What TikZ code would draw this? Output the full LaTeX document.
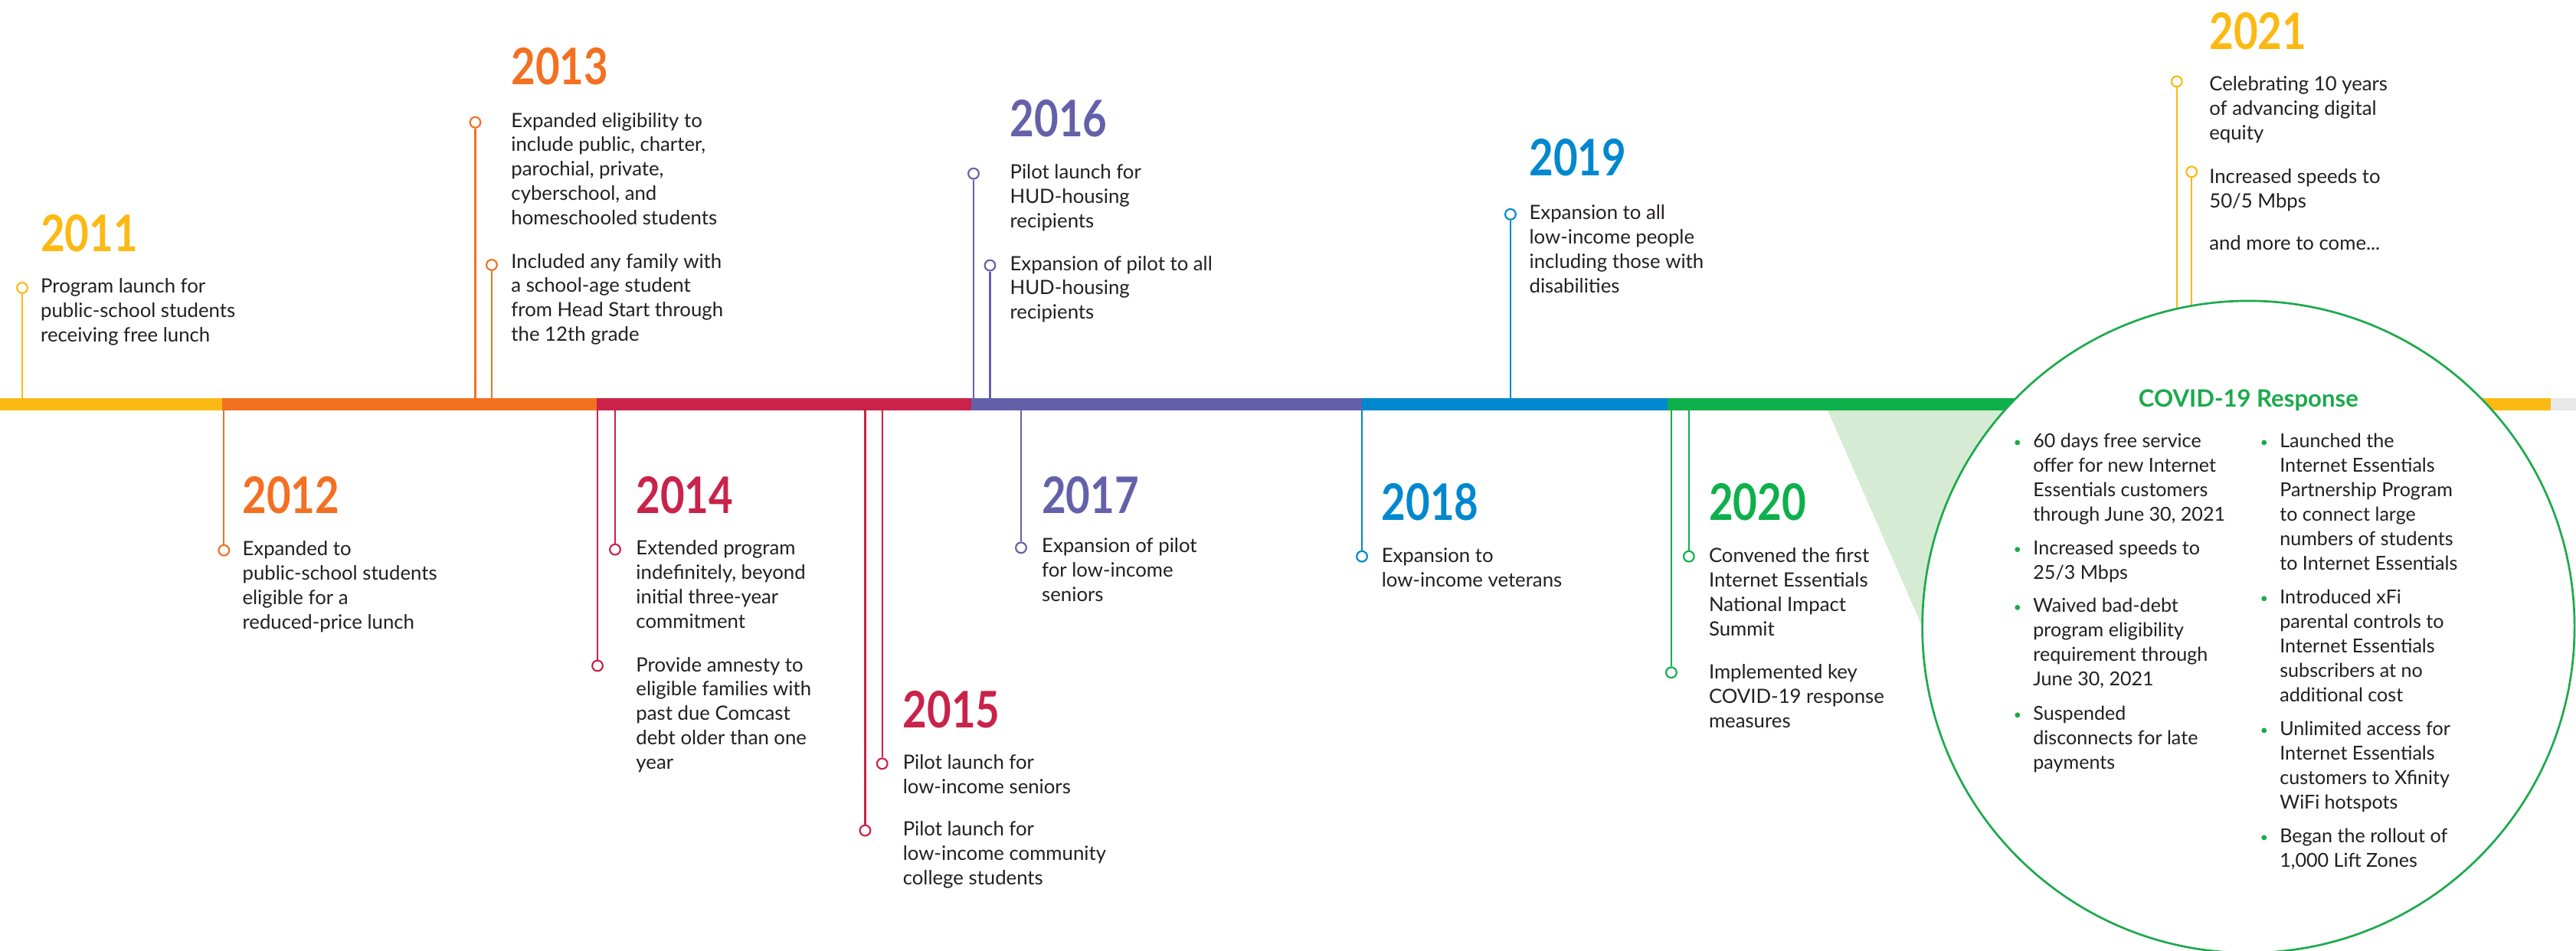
\documentclass[tikz,border=0pt]{standalone}
\usepackage{fontspec}
\setmainfont{Lato}
\newfontfamily\yearfont[FakeStretch=0.83]{Lato}
\definecolor{cyel}{HTML}{FDB913}
\definecolor{cora}{HTML}{F37021}
\definecolor{cred}{HTML}{C9234A}
\definecolor{cpur}{HTML}{6461AA}
\definecolor{cblu}{HTML}{0088CF}
\definecolor{cgrn}{HTML}{0DB04B}
\definecolor{cgrt}{HTML}{1BAA4B}
\definecolor{cwedge}{HTML}{D5EBD3}
\definecolor{cgray}{HTML}{E8E8E8}
\definecolor{ctxt}{HTML}{231F20}
\newcommand\tl[1]{\begin{tabular}[t]{@{}l@{}}#1\end{tabular}}
\tikzset{
  stemline/.style={line width=1pt},
  ring/.style={circle, draw, fill=white, line width=1pt, minimum size=6.4pt, inner sep=0pt},
  yr/.style={anchor=base west, inner sep=0pt, font=\yearfont\bfseries\fontsize{30.7}{30.7}\selectfont},
  body/.style={anchor=base west, inner sep=0pt, text=ctxt, font=\fontsize{12}{14.9}\selectfont},
  cov/.style={anchor=base west, inner sep=0pt, text=ctxt, font=\fontsize{11.7}{14.9}\selectfont},
  bul/.style={circle, fill=cgrt, inner sep=0pt, minimum size=3.2pt},
}
\begin{document}
\begin{tikzpicture}[x=1pt,y=-1pt]
\useasboundingbox (0,0) rectangle (1568,579);
% wedge
\fill[cwedge] (1110.8,246) -- (1368.6,246) -- (1368.6,381.7) -- (1170.1,381.7) -- cycle;
% ---- rings
\node[ring, draw=cyel] (r11) at (13.5,175.3) {};
\node[ring, draw=cora] (r12) at (136.3,335.1) {};
\node[ring, draw=cora] (r13a) at (289.3,74.5) {};
\node[ring, draw=cora] (r13b) at (299.3,161.3) {};
\node[ring, draw=cred] (r14a) at (374.4,334.6) {};
\node[ring, draw=cred] (r14b) at (363.7,405.4) {};
\node[ring, draw=cred] (r15a) at (537,465) {};
\node[ring, draw=cred] (r15b) at (526.6,505.7) {};
\node[ring, draw=cpur] (r16a) at (592.6,105.7) {};
\node[ring, draw=cpur] (r16b) at (602.6,161.6) {};
\node[ring, draw=cpur] (r17) at (621.5,333.5) {};
\node[ring, draw=cblu] (r18) at (829,338.8) {};
\node[ring, draw=cblu] (r19) at (919.4,130.5) {};
\node[ring, draw=cgrn] (r20a) at (1028,338.8) {};
\node[ring, draw=cgrn] (r20b) at (1017.3,409.5) {};
\node[ring, draw=cyel] (r21a) at (1325,49.6) {};
\node[ring, draw=cyel] (r21b) at (1334,104.6) {};
% ---- bar anchor points
\foreach \n/\x in {11/13.5,12/136.3,13a/289.3,13b/299.3,14a/374.4,14b/363.7,15a/537,15b/526.6,16a/592.6,16b/602.6,17/621.5,18/829,19/919.4,20a/1028,20b/1017.3,21a/1325,21b/1334}
  \coordinate (b\n) at (\x,246);
% ---- stems
\draw[stemline, cyel] (r11.south) -- (b11);
\draw[stemline, cora] (r12.north) -- (b12);
\draw[stemline, cora] (r13a.south) -- (b13a);
\draw[stemline, cora] (r13b.south) -- (b13b);
\draw[stemline, cred] (r14a.north) -- (b14a);
\draw[stemline, cred] (r14b.north) -- (b14b);
\draw[stemline, cred] (r15a.north) -- (b15a);
\draw[stemline, cred] (r15b.north) -- (b15b);
\draw[stemline, cpur] (r16a.south) -- (b16a);
\draw[stemline, cpur] (r16b.south) -- (b16b);
\draw[stemline, cpur] (r17.north) -- (b17);
\draw[stemline, cblu] (r18.north) -- (b18);
\draw[stemline, cblu] (r19.south) -- (b19);
\draw[stemline, cgrn] (r20a.north) -- (b20a);
\draw[stemline, cgrn] (r20b.north) -- (b20b);
\draw[stemline, cyel] (r21a.south) -- (b21a);
\draw[stemline, cyel] (r21b.south) -- (b21b);
% ---- bar
\fill[cyel] (0,242.4) rectangle (135.2,249.8);
\fill[cora] (135.2,242.4) rectangle (363,249.8);
\fill[cred] (363,242.4) rectangle (591,249.8);
\fill[cpur] (591,242.4) rectangle (829,249.8);
\fill[cblu] (829,242.4) rectangle (1015,249.8);
\fill[cgrn] (1015,242.4) rectangle (1368.6,249.8);
\fill[cyel] (1368.6,242.4) rectangle (1552.6,249.8);
\fill[cgray] (1552.6,242.4) rectangle (1568,249.8);
% ---- COVID circle
\node[circle, draw=cgrt, fill=white, line width=1.25pt, minimum size=397pt, inner sep=0pt] (covid) at (1368.6,381.7) {};
% ---- years
\node[yr, text=cyel] (y11) at (24.6,153.1) {2011};
\node[yr, text=cora] (y12) at (147.4,312.4) {2012};
\node[yr, text=cora] (y13) at (311,51.6) {2013};
\node[yr, text=cred] (y14) at (387,312.4) {2014};
\node[yr, text=cred] (y15) at (549.4,443.2) {2015};
\node[yr, text=cpur] (y16) at (614.6,83.1) {2016};
\node[yr, text=cpur] (y17) at (634,312.4) {2017};
\node[yr, text=cblu] (y18) at (840.8,317) {2018};
\node[yr, text=cblu] (y19) at (930.7,107.2) {2019};
\node[yr, text=cgrn] (y20) at (1040,317) {2020};
\node[yr, text=cyel] (y21) at (1344.6,30) {2021};
% ---- texts
\node[body] (t11) at (24.6,178.4) {\tl{Program launch for\\public-school students\\receiving free lunch}};
\node[body] (t12) at (147.4,338.2) {\tl{Expanded to\\public-school students\\eligible for a\\reduced-price lunch}};
\node[body] (t13a) at (311,77.4) {\tl{Expanded eligibility to\\include public, charter,\\parochial, private,\\cyberschool, and\\homeschooled students}};
\node[body] (t13b) at (311,163.2) {\tl{Included any family with\\a school-age student\\from Head Start through\\the 12th grade}};
\node[body] (t14a) at (387,338) {\tl{Extended program\\indefinitely, beyond\\initial three-year\\commitment}};
\node[body] (t14b) at (387,408.9) {\tl{Provide amnesty to\\eligible families with\\past due Comcast\\debt older than one\\year}};
\node[body] (t15a) at (549.4,468.4) {\tl{Pilot launch for\\low-income seniors}};
\node[body] (t15b) at (549.4,508.9) {\tl{Pilot launch for\\low-income community\\college students}};
\node[body] (t16a) at (614.6,108.8) {\tl{Pilot launch for\\HUD-housing\\recipients}};
\node[body] (t16b) at (614.6,164.6) {\tl{Expansion of pilot to all\\HUD-housing\\recipients}};
\node[body] (t17) at (634,336.6) {\tl{Expansion of pilot\\for low-income\\seniors}};
\node[body] (t18) at (840.8,342.5) {\tl{Expansion to\\low-income veterans}};
\node[body] (t19) at (930.7,133.6) {\tl{Expansion to all\\low-income people\\including those with\\disabilities}};
\node[body] (t20a) at (1040,342.5) {\tl{Convened the first\\Internet Essentials\\National Impact\\Summit}};
\node[body] (t20b) at (1040,413.3) {\tl{Implemented key\\COVID-19 response\\measures}};
\node[body] (t21a) at (1344.6,55.4) {\tl{Celebrating 10 years\\of advancing digital\\equity}};
\node[body] (t21b) at (1344.6,111.5) {\tl{Increased speeds to\\50/5 Mbps}};
\node[body] (t21c) at (1344.6,152.4) {and more to come...};
% ---- COVID content
\node[anchor=base, inner sep=0pt, text=cgrt, font=\bfseries\fontsize{14.5}{14.5}\selectfont] (ctitle) at (1368.6,248) {COVID-19 Response};
\foreach \n/\y in {la/269.5,lb/334.6,lc/369.9,ld/435.4}
  \node[bul] (p\n) at (1228,\y) {};
\foreach \n/\y in {ra/269.5,rb/364.5,rc/444.8,rd/510}
  \node[bul] (p\n) at (1378.1,\y) {};
\node[cov] (cla) at (1237.4,272.5) {\tl{60 days free service\\offer for new Internet\\Essentials customers\\through June 30, 2021}};
\node[cov] (clb) at (1237.4,337.6) {\tl{Increased speeds to\\25/3 Mbps}};
\node[cov] (clc) at (1237.4,372.9) {\tl{Waived bad-debt\\program eligibility\\requirement through\\June 30, 2021}};
\node[cov] (cld) at (1237.4,438.4) {\tl{Suspended\\disconnects for late\\payments}};
\node[cov] (cra) at (1387.5,272.5) {\tl{Launched the\\Internet Essentials\\Partnership Program\\to connect large\\numbers of students\\to Internet Essentials}};
\node[cov] (crb) at (1387.5,367.5) {\tl{Introduced xFi\\parental controls to\\Internet Essentials\\subscribers at no\\additional cost}};
\node[cov] (crc) at (1387.5,447.8) {\tl{Unlimited access for\\Internet Essentials\\customers to Xfinity\\WiFi hotspots}};
\node[cov] (crd) at (1387.5,513) {\tl{Began the rollout of\\1,000 Lift Zones}};
\end{tikzpicture}
\end{document}
